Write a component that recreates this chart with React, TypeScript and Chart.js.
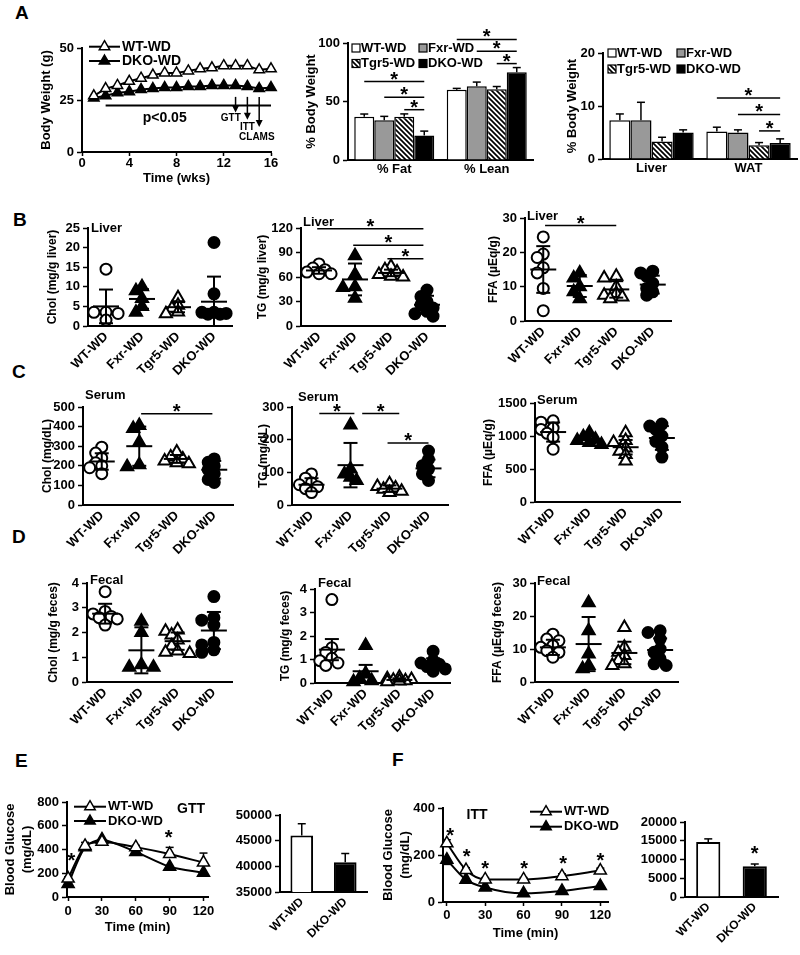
import React, { useEffect, useRef } from 'react';
import { Chart, registerables } from 'chart.js';

Chart.register(...registerables);

const FONT = '"Liberation Sans", Arial, Helvetica, sans-serif';
Chart.defaults.font.family = FONT;
Chart.defaults.color = '#000';

/* ======================= DATA ======================= */
const GROUPS = ['WT-WD', 'Fxr-WD', 'Tgr5-WD', 'DKO-WD'];
const PAIR = ['WT-WD', 'DKO-WD'];

// A – body weight curve
const weeks = [1, 2, 3, 4, 5, 6, 7, 8, 9, 10, 11, 12, 13, 14, 15, 16];
const bwWT = [27, 30.5, 32, 34, 35.5, 37, 38, 38, 39, 40, 40.5, 41.5, 41.5, 41.5, 39.5, 40];
const bwDKO = [26, 27, 28.5, 29, 30, 30.5, 31, 31, 31.5, 31.5, 32, 32, 32, 31.5, 30.5, 31];
const bwXTicks = [0, 4, 8, 12, 16];
const bwYTicks = [0, 25, 50];
const bwSigSpan = [2, 16];
const bwSigY = 22.4;
const bwEvents = [
  { label: 'GTT', x: 13, tip: 19, lx: 12.6, ly: 16.3 },
  { label: 'ITT', x: 14, tip: 15.5, lx: 14, ly: 12 },
  { label: 'CLAMS', x: 15, tip: 12, lx: 14.8, ly: 7.2 },
];

// A – body composition (% body weight)
const compCats = ['% Fat', '% Lean'];
const compWT = [37, 60];
const compFxr = [34, 63];
const compTgr5 = [37, 60.5];
const compDKO = [21, 75];
const compWTErr = [2.3, 1.2];
const compFxrErr = [3.3, 3.6];
const compTgr5Err = [2.4, 2.3];
const compDKOErr = [3.7, 4];
const compYTicks = [0, 50, 100];
const compSig = [[0, 0, 3, 67], [0, 1, 3, 53.7], [0, 2, 3, 43], [1, 0, 3, 103], [1, 1, 3, 93], [1, 2, 3, 82.4]];

// A – organ weight (% body weight)
const organCats = ['Liver', 'WAT'];
const organWT = [7.3, 5.2];
const organFxr = [7.3, 5.0];
const organTgr5 = [3.3, 2.6];
const organDKO = [5.0, 3.0];
const organWTErr = [1.2, 0.8];
const organFxrErr = [3.4, 0.5];
const organTgr5Err = [0.8, 0.5];
const organDKOErr = [0.5, 0.8];
const organYTicks = [0, 10, 20];
const organSig = [[1, 0, 3, 11.5], [1, 1, 3, 8.4], [1, 2, 3, 5.3]];

// B – liver
const livCholWT = [14.5, 3.5, 3.2, 3.5, 1.5];
const livCholFxr = [10, 9, 7, 5, 3.5];
const livCholTgr5 = [7.2, 5.3, 4.5, 3.6, 3.1];
const livCholDKO = [21.3, 8.2, 3.5, 3.0, 3.0, 3.2, 3.5];
const livCholMean = [5.0, 6.9, 4.8, 6.2];
const livCholSD = [4.3, 2.5, 1.3, 6.4];
const livCholTicks = [0, 5, 10, 15, 20, 25];

const livTgWT = [76, 71, 69, 66, 64, 64];
const livTgFxr = [86, 63, 48, 47, 34];
const livTgTgr5 = [73, 69, 66, 63, 61, 60];
const livTgDKO = [44, 36, 30, 26, 22, 18, 15, 12];
const livTgMean = [68, 57, 65, 26];
const livTgSD = [4, 19.5, 4, 11];
const livTgTicks = [0, 30, 60, 90, 120];
const livTgSig = [[-0.05, 2.9, 119], [0.95, 2.9, 99], [1.9, 2.9, 82.5]];

const livFfaWT = [24.5, 19.5, 18.5, 15.5, 14, 9.5, 3];
const livFfaFxr = [14, 12.5, 10, 8.5, 6.5];
const livFfaTgr5 = [13, 12.5, 10, 8, 7.5, 7, 6.5];
const livFfaDKO = [14.5, 14, 13, 11, 9.5, 8.5, 7.5];
const livFfaMean = [15, 10.2, 9.2, 10.6];
const livFfaSD = [6.8, 3.2, 2.4, 2.6];
const livFfaTicks = [0, 10, 20, 30];
const livFfaSig = [[0.05, 2, 27.8]];

// C – serum
const serCholWT = [295, 265, 240, 215, 200, 190, 160];
const serCholFxr = [405, 390, 320, 205, 195];
const serCholTgr5 = [270, 245, 235, 225, 215, 210];
const serCholDKO = [235, 218, 200, 180, 160, 130, 115];
const serCholMean = [222, 300, 235, 180];
const serCholSD = [42, 100, 20, 45];
const serCholTicks = [0, 100, 200, 300, 400, 500];
const serCholSig = [[1.05, 2.95, 466]];

const serTgWT = [95, 82, 68, 62, 56, 50, 38];
const serTgFxr = [245, 110, 95, 85, 75];
const serTgTgr5 = [65, 57, 52, 48, 42, 38];
const serTgDKO = [165, 140, 120, 110, 95, 75];
const serTgMean = [62, 122, 50, 112];
const serTgSD = [20, 68, 10, 27];
const serTgTicks = [0, 100, 200, 300];
const serTgSig = [[0.2, 1.1, 280], [1.3, 2.25, 280], [1.95, 3.0, 190]];

const serFfaWT = [1230, 1210, 1120, 1100, 1040, 980, 800];
const serFfaFxr = [1050, 990, 950, 930, 900, 870];
const serFfaTgr5 = [1050, 930, 900, 820, 770, 720, 620];
const serFfaDKO = [1180, 1150, 1100, 1000, 920, 830, 680];
const serFfaMean = [1060, 950, 830, 970];
const serFfaSD = [145, 60, 110, 180];
const serFfaTicks = [0, 500, 1000, 1500];

// D – fecal
const fecCholWT = [3.65, 2.85, 2.75, 2.65, 2.6, 2.55, 2.3];
const fecCholFxr = [2.45, 2.0, 0.7, 0.6, 0.6];
const fecCholTgr5 = [2.1, 2.05, 1.9, 1.7, 1.45, 1.25, 1.2, 1.15];
const fecCholDKO = [3.45, 2.6, 2.5, 2.3, 1.6, 1.5, 1.3, 1.2];
const fecCholMean = [2.76, 1.28, 1.65, 2.08];
const fecCholSD = [0.4, 0.93, 0.35, 0.75];
const fecCholTicks = [0, 1, 2, 3, 4];

const fecTgWT = [3.55, 1.5, 1.3, 1.05, 0.95, 0.85, 0.75];
const fecTgFxr = [1.6, 0.4, 0.2, 0.1, 0.05];
const fecTgTgr5 = [0.25, 0.18, 0.15, 0.12, 0.1, 0.08, 0.05];
const fecTgDKO = [1.35, 0.95, 0.85, 0.8, 0.7, 0.6, 0.5];
const fecTgMean = [1.42, 0.5, 0.13, 0.8];
const fecTgSD = [0.45, 0.27, 0.07, 0.25];
const fecTgTicks = [0, 1, 2, 3, 4];

const fecFfaWT = [14.5, 13, 12.5, 11, 10.5, 9.5, 9, 7.5];
const fecFfaFxr = [24, 15.5, 8.5, 5, 4];
const fecFfaTgr5 = [16.5, 10.5, 9, 8, 6.5, 5.5, 5];
const fecFfaDKO = [15.5, 15, 13, 10, 9, 7, 5.5, 5];
const fecFfaMean = [10.5, 11.5, 8.8, 9.7];
const fecFfaSD = [2.3, 8.2, 3.4, 3.5];
const fecFfaTicks = [0, 10, 20, 30];

// E – GTT
const times = [0, 15, 30, 60, 90, 120];
const timeTicks = [0, 30, 60, 90, 120];
const gttWT = [155, 430, 465, 420, 362, 290];
const gttDKO = [110, 420, 485, 380, 255, 205];
const gttWTErr = [15, 30, 20, 15, 56, 80];
const gttDKOErr = [15, 25, 20, 15, 20, 15];
const gttTicks = [0, 200, 400, 600, 800];
const gttStars = [[3, 340], [89, 530]];
const gttAUC = [46000, 40800];
const gttAUCErr = [2300, 1700];
const gttAUCTicks = [35000, 40000, 45000, 50000];

// F – ITT
const ittWT = [250, 136, 96, 96, 110, 134];
const ittDKO = [180, 95, 62, 37, 47, 68];
const ittWTErr = [15, 10, 8, 8, 10, 10];
const ittDKOErr = [20, 10, 8, 5, 5, 8];
const ittTicks = [0, 200, 400];
const ittStars = [[2.5, 300], [15.5, 207], [30, 157], [60.5, 157], [91, 180], [120, 193]];
const ittAUC = [14700, 8200];
const ittAUCErr = [800, 600];
const ittAUCTicks = [0, 5000, 10000, 15000, 20000];
const ittAUCStars = [[1, 12500]];

/* ======================= LAYOUT ======================= */
function geo(L: number, T: number, R: number, B: number, cl: number, ct: number, cr: number, cb: number) {
  return { L, T, R, B, x: cl, y: ct, w: cr - cl, h: cb - ct, yW: L - cl, padT: T - ct, padR: cr - R, xH: cb - B };
}

const G: any = {
  a1: geo(82, 48, 271, 152, 39, 25, 285, 186),
  a2: geo(348, 43, 533, 160, 304, 18, 540, 182),
  a3: geo(603, 53, 797, 159, 565, 25, 800, 182),
  b1: geo(88, 228, 232, 326, 45, 205, 245, 378),
  b2: geo(301, 228, 445, 326, 255, 205, 460, 378),
  b3: geo(525, 218, 671, 321, 486, 200, 690, 378),
  c1: geo(83, 407, 233, 505, 40, 385, 245, 558),
  c2: geo(292, 407, 448, 505, 256, 385, 460, 558),
  c3: geo(535, 403, 680, 502, 481, 385, 695, 558),
  d1: geo(87, 583, 232, 682, 46, 565, 245, 738),
  d2: geo(315, 589, 450, 683, 278, 565, 460, 738),
  d3: geo(535, 583, 678, 682, 490, 565, 695, 738),
  e1: geo(67, 802, 208, 897, 2, 785, 222, 935),
  e2: geo(280, 815, 367, 892, 232, 800, 375, 950),
  f1: geo(443, 808, 608, 902, 380, 785, 620, 941),
  f2: geo(685, 822, 778, 897, 628, 805, 792, 955),
};

/* ======================= DRAW HELPERS ======================= */
function txt(ctx: any, s: string, x: number, y: number, size: number, align = 'center') {
  ctx.save();
  ctx.font = `bold ${size}px ${FONT}`;
  ctx.fillStyle = '#000';
  ctx.textAlign = align;
  ctx.textBaseline = 'middle';
  ctx.fillText(s, x, y);
  ctx.restore();
}
function seg(ctx: any, x1: number, y1: number, x2: number, y2: number, w = 1.5) {
  ctx.save();
  ctx.strokeStyle = '#000';
  ctx.lineWidth = w;
  ctx.beginPath();
  ctx.moveTo(x1, y1);
  ctx.lineTo(x2, y2);
  ctx.stroke();
  ctx.restore();
}
function star(ctx: any, x: number, yc: number, size = 20) {
  ctx.save();
  ctx.font = `bold ${size}px ${FONT}`;
  ctx.fillStyle = '#000';
  ctx.textAlign = 'center';
  ctx.textBaseline = 'alphabetic';
  const m = ctx.measureText('*');
  const asc = m.actualBoundingBoxAscent || size * 0.7;
  const desc = m.actualBoundingBoxDescent || -size * 0.4;
  ctx.fillText('*', x, yc + (asc - desc) / 2);
  ctx.restore();
}
function sig(ctx: any, x1: number, x2: number, y: number) {
  seg(ctx, x1, y, x2, y, 1.5);
  star(ctx, (x1 + x2) / 2, y - 6, 20);
}
function tri(ctx: any, x: number, y: number, r: number, fill: string) {
  ctx.save();
  ctx.beginPath();
  ctx.moveTo(x, y - r);
  ctx.lineTo(x + r * 0.866, y + r / 2);
  ctx.lineTo(x - r * 0.866, y + r / 2);
  ctx.closePath();
  ctx.fillStyle = fill;
  ctx.fill();
  ctx.strokeStyle = '#000';
  ctx.lineWidth = 1.5;
  ctx.stroke();
  ctx.restore();
}
function arrow(ctx: any, x: number, y1: number, y2: number) {
  seg(ctx, x, y1, x, y2 - 5, 1.5);
  ctx.save();
  ctx.fillStyle = '#000';
  ctx.beginPath();
  ctx.moveTo(x - 3.5, y2 - 7);
  ctx.lineTo(x + 3.5, y2 - 7);
  ctx.lineTo(x, y2);
  ctx.closePath();
  ctx.fill();
  ctx.restore();
}
function lineLegend(c: any, items: any[], dx: number, dy: number, len: number, rowH: number, r: number, size: number) {
  const { left, top } = c.chartArea;
  items.forEach((it, i) => {
    const x = left + dx, y = top + dy + i * rowH;
    seg(c.ctx, x, y, x + len, y, 2);
    tri(c.ctx, x + len / 2, y, r, it.fill);
    txt(c.ctx, it.label, x + len + 2, y, size, 'left');
  });
}
function boxLegend(c: any, items: any[], dx: number, dy: number, colW: number, rowH: number, box: number, size: number) {
  const { left, top } = c.chartArea;
  const ctx = c.ctx;
  items.forEach((it, i) => {
    const x = left + dx + (i % 2) * colW, y = top + dy + Math.floor(i / 2) * rowH;
    ctx.save();
    ctx.fillStyle = it.fill;
    ctx.fillRect(x, y - box / 2, box, box);
    ctx.strokeStyle = '#000';
    ctx.lineWidth = 1.2;
    ctx.strokeRect(x, y - box / 2, box, box);
    ctx.restore();
    txt(ctx, it.label, x + box + 1, y, size, 'left');
  });
}
function barErrors(c: any, errs: number[][], cap: number) {
  const Y = (v: number) => c.scales.y.getPixelForValue(v);
  c.data.datasets.forEach((ds: any, i: number) => {
    c.getDatasetMeta(i).data.forEach((bar: any, j: number) => {
      const v = ds.data[j];
      const y0 = Y(v), y1 = Y(v + errs[i][j]);
      seg(c.ctx, bar.x, y0, bar.x, y1, 1.5);
      seg(c.ctx, bar.x - cap / 2, y1, bar.x + cap / 2, y1, 1.5);
    });
  });
}
function lineErrors(c: any, di: number, errs: number[], dir: number) {
  const Y = (v: number) => c.scales.y.getPixelForValue(v);
  const ds = c.data.datasets[di];
  c.getDatasetMeta(di).data.forEach((pt: any, j: number) => {
    const y2 = Y(ds.data[j].y + dir * errs[j]);
    seg(c.ctx, pt.x, pt.y, pt.x, y2, 1.5);
    seg(c.ctx, pt.x - 4, y2, pt.x + 4, y2, 1.5);
  });
}
function hatch() {
  const cv = document.createElement('canvas');
  cv.width = 5;
  cv.height = 5;
  const g = cv.getContext('2d') as any;
  g.fillStyle = '#fff';
  g.fillRect(0, 0, 5, 5);
  g.strokeStyle = '#000';
  g.lineWidth = 1.7;
  g.beginPath();
  g.moveTo(-1, -1); g.lineTo(6, 6);
  g.moveTo(-1, 4); g.lineTo(1, 6);
  g.moveTo(4, -1); g.lineTo(6, 1);
  g.stroke();
  return g.createPattern(cv, 'repeat');
}

/* ======================= SCALES ======================= */
const base = (g: any) => ({
  responsive: false,
  animation: false,
  devicePixelRatio: 1,
  events: [],
  layout: { padding: { left: 0, right: g.padR, top: g.padT, bottom: 0 } },
  plugins: { legend: { display: false }, tooltip: { enabled: false }, title: { display: false } },
});

function yLin(g: any, min: number, max: number, ticks: number[], title: any, tickSize: number, titleSize: number, titleLH: number) {
  return {
    type: 'linear', position: 'left', min, max,
    afterFit: (s: any) => { s.width = g.yW; },
    afterBuildTicks: (s: any) => { s.ticks = ticks.map((v) => ({ value: v })); },
    border: { display: true, color: '#000', width: 2 },
    grid: { display: true, drawOnChartArea: false, drawTicks: true, tickLength: 5, tickColor: '#000', tickWidth: 1.5 },
    ticks: { color: '#000', font: { family: FONT, size: tickSize, weight: 'bold' }, padding: 3, autoSkip: false, callback: (v: any) => String(v) },
    title: title
      ? { display: true, text: title, color: '#000', font: { family: FONT, size: titleSize, weight: 'bold', lineHeight: titleLH }, padding: 0 }
      : { display: false },
  };
}
function xLin(g: any, min: number, max: number, ticks: number[], title: string, pad: number) {
  return {
    type: 'linear', min, max,
    afterFit: (s: any) => { s.height = g.xH; },
    afterBuildTicks: (s: any) => { s.ticks = ticks.map((v) => ({ value: v })); },
    border: { display: true, color: '#000', width: 2 },
    grid: { display: true, drawOnChartArea: false, drawTicks: true, tickLength: 4, tickColor: '#000', tickWidth: 1.5 },
    ticks: { color: '#000', font: { family: FONT, size: 13, weight: 'bold' }, padding: pad, autoSkip: false, minRotation: 0, maxRotation: 0, callback: (v: any) => String(v) },
    title: { display: true, text: title, color: '#000', font: { family: FONT, size: 13, weight: 'bold', lineHeight: 1.2 }, padding: 0 },
  };
}
function xCat(g: any, rot: boolean, size: number, pad: number) {
  return {
    type: 'category', offset: true,
    afterFit: (s: any) => { s.height = g.xH; },
    border: { display: true, color: '#000', width: 2 },
    grid: { display: false, drawTicks: false },
    ticks: { color: '#000', font: { family: FONT, size, weight: 'bold' }, padding: pad, autoSkip: false, minRotation: rot ? 45 : 0, maxRotation: rot ? 45 : 0 },
  };
}
function xGroups(g: any) {
  return {
    type: 'linear', min: -0.5, max: 3.5,
    afterFit: (s: any) => { s.height = g.xH; },
    afterBuildTicks: (s: any) => { s.ticks = GROUPS.map((_, i) => ({ value: i })); },
    border: { display: true, color: '#000', width: 2 },
    grid: { display: false, drawTicks: false },
    ticks: { color: '#000', font: { family: FONT, size: 13, weight: 'bold' }, padding: 3, autoSkip: false, minRotation: 45, maxRotation: 45, callback: (v: any) => GROUPS[v] },
  };
}

/* ======================= CHART CONFIGS ======================= */
const PT = [
  { ps: 'circle', r: 5.5, bg: '#fff' },
  { ps: 'triangle', r: 7, bg: '#000' },
  { ps: 'triangle', r: 7, bg: '#fff' },
  { ps: 'circle', r: 5.5, bg: '#000' },
];

// deterministic beeswarm: spreads overlapping points sideways (compactly, overlap allowed)
function swarm(vals: number[], g: any, min: number, max: number) {
  const ky = (g.B - g.T) / (max - min);
  const kx = (g.R - g.L) / 4;
  const d = 11;
  const order = vals.map((_, i) => i).sort((a, b) => vals[b] - vals[a]);
  const placed: any[] = [];
  const off = vals.map(() => 0);
  const cands = [0, -0.55, 0.55, -1.1, 1.1].map((k) => k * d);
  for (const i of order) {
    const y = vals[i] * ky;
    let best = 0, bestD = -1;
    for (const c of cands) {
      const md = placed.reduce((m, p) => Math.min(m, Math.hypot(p.x - c, p.y - y)), Infinity);
      if (md >= d * 0.6) { best = c; break; }
      if (md > bestD) { bestD = md; best = c; }
    }
    off[i] = best;
    placed.push({ x: best, y });
  }
  return off.map((o) => o / kx);
}

function scatterCfg(g: any, s: any) {
  return {
    type: 'scatter',
    data: {
      datasets: s.groups.map((vals: number[], gi: number) => {
        const jit = swarm(vals, g, s.min, s.max);
        return {
          data: vals.map((v, k) => ({ x: gi + jit[k], y: v })),
          pointStyle: PT[gi].ps, pointRadius: PT[gi].r, pointBackgroundColor: PT[gi].bg,
          pointBorderColor: '#000', pointBorderWidth: 2, clip: false,
        };
      }),
    },
    options: { ...base(g), scales: { x: xGroups(g), y: yLin(g, s.min, s.max, s.ticks, s.title, 13, 12, 1.2) } },
    plugins: [{
      id: 'scatterAnn',
      afterDatasetsDraw: (c: any) => {
        const ctx = c.ctx;
        const X = (v: number) => c.scales.x.getPixelForValue(v);
        const Y = (v: number) => c.scales.y.getPixelForValue(v);
        s.mean.forEach((m: number, i: number) => {
          const cx = X(i);
          const hi = Math.min(m + s.sd[i], s.max), lo = Math.max(m - s.sd[i], s.min);
          seg(ctx, cx - 13, Y(m), cx + 13, Y(m), 2);
          seg(ctx, cx, Y(hi), cx, Y(lo), 2);
          seg(ctx, cx - 7, Y(hi), cx + 7, Y(hi), 2);
          if (m - s.sd[i] > s.min) seg(ctx, cx - 7, Y(lo), cx + 7, Y(lo), 2);
        });
        (s.sig || []).forEach((q: number[]) => sig(ctx, X(q[0]), X(q[1]), Y(q[2])));
        txt(ctx, s.label[0], c.chartArea.left + s.label[1], c.chartArea.top + s.label[2], 13, 'left');
      },
    }],
  };
}

function groupBarCfg(g: any, labels: string[], vals: number[][], errs: number[][], max: number, ticks: number[], sigs: number[][], cp: number, leg: number[]) {
  const fills: any[] = ['#fff', '#999', hatch(), '#000'];
  return {
    type: 'bar',
    data: {
      labels,
      datasets: vals.map((d, i) => ({
        data: d, backgroundColor: fills[i], borderColor: '#000', borderWidth: 1.5,
        borderSkipped: 'start', categoryPercentage: cp, barPercentage: 1,
      })),
    },
    options: { ...base(g), scales: { x: xCat(g, false, 13, 2), y: yLin(g, 0, max, ticks, '% Body Weight', 13, 13, 1.2) } },
    plugins: [{
      id: 'groupAnn',
      afterDatasetsDraw: (c: any) => {
        const Y = (v: number) => c.scales.y.getPixelForValue(v);
        barErrors(c, errs, 8);
        sigs.forEach(([cat, a, b, y]) => {
          const ma = c.getDatasetMeta(a).data[cat], mb = c.getDatasetMeta(b).data[cat];
          sig(c.ctx, ma.x, mb.x, Y(y));
        });
        boxLegend(c, GROUPS.map((l, i) => ({ label: l, fill: fills[i] })), leg[0], leg[1], leg[2], leg[3], 8, 13);
      },
    }],
  };
}

function aucCfg(g: any, vals: number[], errs: number[], min: number, max: number, ticks: number[], stars: number[][]) {
  return {
    type: 'bar',
    data: {
      labels: PAIR,
      datasets: [{
        data: vals, backgroundColor: ['#fff', '#000'], borderColor: '#000', borderWidth: 2,
        borderSkipped: 'start', categoryPercentage: 1, barPercentage: 0.52,
      }],
    },
    options: { ...base(g), scales: { x: xCat(g, true, 12, 3), y: yLin(g, min, max, ticks, null, 13, 13, 1.2) } },
    plugins: [{
      id: 'aucAnn',
      afterDatasetsDraw: (c: any) => {
        barErrors(c, [errs], 8);
        stars.forEach(([i, v]) => star(c.ctx, c.getDatasetMeta(0).data[i].x, c.scales.y.getPixelForValue(v), 20));
      },
    }],
  };
}

function lineDs(xs: number[], ys: number[], fill: string, r: number, tension: number, mono: boolean) {
  return {
    data: xs.map((x, i) => ({ x, y: ys[i] })),
    borderColor: '#000', borderWidth: 2,
    pointStyle: 'triangle', pointRadius: r, pointBackgroundColor: fill,
    pointBorderColor: '#000', pointBorderWidth: 1.5,
    tension, cubicInterpolationMode: mono ? 'monotone' : 'default', clip: false,
  };
}

const LEG2 = [{ label: 'WT-WD', fill: '#fff' }, { label: 'DKO-WD', fill: '#000' }];

function cfgA1() {
  const g = G.a1;
  return {
    type: 'line',
    data: { datasets: [lineDs(weeks, bwWT, '#fff', 6, 0, false), lineDs(weeks, bwDKO, '#000', 6, 0, false)] },
    options: { ...base(g), scales: { x: xLin(g, 0, 16, bwXTicks, 'Time (wks)', 0), y: yLin(g, 0, 50, bwYTicks, 'Body Weight (g)', 13, 13, 1.2) } },
    plugins: [{
      id: 'a1Ann',
      afterDatasetsDraw: (c: any) => {
        const ctx = c.ctx;
        const X = (v: number) => c.scales.x.getPixelForValue(v);
        const Y = (v: number) => c.scales.y.getPixelForValue(v);
        lineLegend(c, LEG2, 7, -1.3, 31, 14.3, 6, 14);
        seg(ctx, X(bwSigSpan[0]), Y(bwSigY), X(bwSigSpan[1]), Y(bwSigY), 2);
        txt(ctx, 'p<0.05', X(7), Y(16.3), 14);
        bwEvents.forEach((e) => {
          arrow(ctx, X(e.x), Y(26.5), Y(e.tip));
          txt(ctx, e.label, X(e.lx), Y(e.ly), 10);
        });
      },
    }],
  };
}
const cfgA2 = () => groupBarCfg(G.a2, compCats, [compWT, compFxr, compTgr5, compDKO], [compWTErr, compFxrErr, compTgr5Err, compDKOErr], 100, compYTicks, compSig, 0.865, [4, 5, 67, 15.5]);
const cfgA3 = () => groupBarCfg(G.a3, organCats, [organWT, organFxr, organTgr5, organDKO], [organWTErr, organFxrErr, organTgr5Err, organDKOErr], 20, organYTicks, organSig, 0.87, [5, 0, 69, 16]);

const cfgB1 = () => scatterCfg(G.b1, { groups: [livCholWT, livCholFxr, livCholTgr5, livCholDKO], mean: livCholMean, sd: livCholSD, min: 0, max: 25, ticks: livCholTicks, title: 'Chol (mg/g liver)', label: ['Liver', 3, 0] });
const cfgB2 = () => scatterCfg(G.b2, { groups: [livTgWT, livTgFxr, livTgTgr5, livTgDKO], mean: livTgMean, sd: livTgSD, min: 0, max: 120, ticks: livTgTicks, title: 'TG (mg/g liver)', sig: livTgSig, label: ['Liver', 2, -6] });
const cfgB3 = () => scatterCfg(G.b3, { groups: [livFfaWT, livFfaFxr, livFfaTgr5, livFfaDKO], mean: livFfaMean, sd: livFfaSD, min: 0, max: 30, ticks: livFfaTicks, title: 'FFA (µEq/g)', sig: livFfaSig, label: ['Liver', 2, -2] });
const cfgC1 = () => scatterCfg(G.c1, { groups: [serCholWT, serCholFxr, serCholTgr5, serCholDKO], mean: serCholMean, sd: serCholSD, min: 0, max: 500, ticks: serCholTicks, title: 'Chol (mg/dL)', sig: serCholSig, label: ['Serum', 2, -12] });
const cfgC2 = () => scatterCfg(G.c2, { groups: [serTgWT, serTgFxr, serTgTgr5, serTgDKO], mean: serTgMean, sd: serTgSD, min: 0, max: 300, ticks: serTgTicks, title: 'TG (mg/dL)', sig: serTgSig, label: ['Serum', 6, -10] });
const cfgC3 = () => scatterCfg(G.c3, { groups: [serFfaWT, serFfaFxr, serFfaTgr5, serFfaDKO], mean: serFfaMean, sd: serFfaSD, min: 0, max: 1500, ticks: serFfaTicks, title: 'FFA (µEq/g)', label: ['Serum', 2, -3] });
const cfgD1 = () => scatterCfg(G.d1, { groups: [fecCholWT, fecCholFxr, fecCholTgr5, fecCholDKO], mean: fecCholMean, sd: fecCholSD, min: 0, max: 4, ticks: fecCholTicks, title: 'Chol (mg/g feces)', label: ['Fecal', 3, -3] });
const cfgD2 = () => scatterCfg(G.d2, { groups: [fecTgWT, fecTgFxr, fecTgTgr5, fecTgDKO], mean: fecTgMean, sd: fecTgSD, min: 0, max: 4, ticks: fecTgTicks, title: 'TG (mg/g feces)', label: ['Fecal', 3, -6] });
const cfgD3 = () => scatterCfg(G.d3, { groups: [fecFfaWT, fecFfaFxr, fecFfaTgr5, fecFfaDKO], mean: fecFfaMean, sd: fecFfaSD, min: 0, max: 30, ticks: fecFfaTicks, title: 'FFA (µEq/g feces)', label: ['Fecal', 2, -2] });

function cfgE1() {
  const g = G.e1;
  return {
    type: 'line',
    data: { datasets: [lineDs(times, gttWT, '#fff', 7, 0.25, false), lineDs(times, gttDKO, '#000', 7, 0.25, false)] },
    options: { ...base(g), scales: { x: xLin(g, -1, 124, timeTicks, 'Time (min)', 3), y: yLin(g, 0, 800, gttTicks, ['Blood Glucose', '(mg/dL)'], 13, 13, 1.3) } },
    plugins: [{
      id: 'e1Ann',
      beforeDatasetsDraw: (c: any) => { lineErrors(c, 0, gttWTErr, 1); lineErrors(c, 1, gttDKOErr, -1); },
      afterDatasetsDraw: (c: any) => {
        const X = (v: number) => c.scales.x.getPixelForValue(v);
        const Y = (v: number) => c.scales.y.getPixelForValue(v);
        lineLegend(c, LEG2, 7, 4.7, 32, 14.3, 6, 13);
        txt(c.ctx, 'GTT', c.chartArea.left + 124, c.chartArea.top + 7, 14);
        gttStars.forEach(([x, y]) => star(c.ctx, X(x), Y(y), 20));
      },
    }],
  };
}
const cfgE2 = () => aucCfg(G.e2, gttAUC, gttAUCErr, 35000, 50000, gttAUCTicks, []);

function cfgF1() {
  const g = G.f1;
  return {
    type: 'line',
    data: { datasets: [lineDs(times, ittWT, '#fff', 7, 0, true), lineDs(times, ittDKO, '#000', 7, 0, true)] },
    options: { ...base(g), scales: { x: xLin(g, -3, 126, timeTicks, 'Time (min)', 2), y: yLin(g, 0, 400, ittTicks, ['Blood Glucose', '(mg/dL)'], 13, 13, 1.3) } },
    plugins: [{
      id: 'f1Ann',
      beforeDatasetsDraw: (c: any) => { lineErrors(c, 0, ittWTErr, 1); lineErrors(c, 1, ittDKOErr, -1); },
      afterDatasetsDraw: (c: any) => {
        const X = (v: number) => c.scales.x.getPixelForValue(v);
        const Y = (v: number) => c.scales.y.getPixelForValue(v);
        lineLegend(c, LEG2, 87, 3.7, 32, 15, 6, 13);
        txt(c.ctx, 'ITT', c.chartArea.left + 34, c.chartArea.top + 7, 14);
        ittStars.forEach(([x, y]) => star(c.ctx, X(x), Y(y), 20));
      },
    }],
  };
}
const cfgF2 = () => aucCfg(G.f2, ittAUC, ittAUCErr, 0, 20000, ittAUCTicks, ittAUCStars);

/* ======================= COMPONENTS ======================= */
function ChartCanvas({ g, cfg }: { g: any; cfg: () => any }) {
  const ref = useRef<HTMLCanvasElement | null>(null);
  useEffect(() => {
    const chart = new Chart(ref.current as HTMLCanvasElement, cfg() as any);
    return () => chart.destroy();
  }, []);
  return (
    <canvas
      ref={ref}
      width={g.w}
      height={g.h}
      style={{ position: 'absolute', left: g.x, top: g.y, width: g.w, height: g.h }}
    />
  );
}

const LETTERS: [string, number, number][] = [
  ['A', 15, 5], ['B', 13, 212], ['C', 12, 364], ['D', 12, 529], ['E', 15, 753], ['F', 392, 752],
];

export default function App() {
  return (
    <div style={{ position: 'absolute', left: 0, top: 0, width: 800, height: 955, background: '#fff', overflow: 'hidden', fontFamily: FONT }}>
      {LETTERS.map(([t, x, y]) => (
        <div key={t} style={{ position: 'absolute', left: x, top: y - 2.5, fontSize: 19, lineHeight: 1, fontWeight: 'bold', color: '#000' }}>{t}</div>
      ))}
      <ChartCanvas g={G.a1} cfg={cfgA1} />
      <ChartCanvas g={G.a2} cfg={cfgA2} />
      <ChartCanvas g={G.a3} cfg={cfgA3} />
      <ChartCanvas g={G.b1} cfg={cfgB1} />
      <ChartCanvas g={G.b2} cfg={cfgB2} />
      <ChartCanvas g={G.b3} cfg={cfgB3} />
      <ChartCanvas g={G.c1} cfg={cfgC1} />
      <ChartCanvas g={G.c2} cfg={cfgC2} />
      <ChartCanvas g={G.c3} cfg={cfgC3} />
      <ChartCanvas g={G.d1} cfg={cfgD1} />
      <ChartCanvas g={G.d2} cfg={cfgD2} />
      <ChartCanvas g={G.d3} cfg={cfgD3} />
      <ChartCanvas g={G.e1} cfg={cfgE1} />
      <ChartCanvas g={G.e2} cfg={cfgE2} />
      <ChartCanvas g={G.f1} cfg={cfgF1} />
      <ChartCanvas g={G.f2} cfg={cfgF2} />
    </div>
  );
}
